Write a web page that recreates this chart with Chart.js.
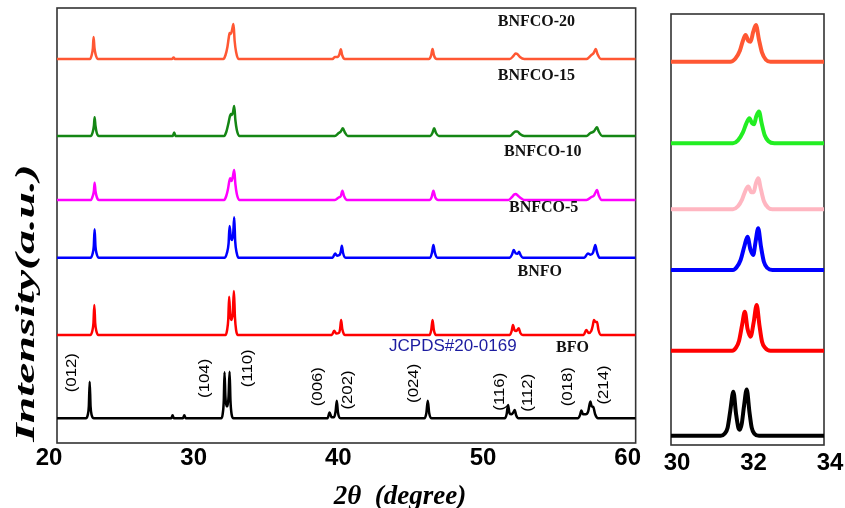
<!DOCTYPE html>
<html lang="en">
<head>
<meta charset="UTF-8" />
<title>XRD BNFCO</title>
<script src="https://cdn.jsdelivr.net/npm/chart.js"></script>
<style>
    body {
        margin: 0;
        background: #fff;
    }

    .wrap {
        position: relative;
        width: 845px;
        height: 508px;
    }

    .panel {
        position: absolute;
        top: 0;
        height: 508px;
    }

    #leftBox {
        left: 0;
        width: 650px;
    }

    #rightBox {
        left: 650px;
        width: 195px;
    }
</style>
</head>
<body>
<div class="wrap">
    <div class="panel" id="leftBox"><canvas id="xrdChart"></canvas></div>
    <div class="panel" id="rightBox"><canvas id="zoomChart"></canvas></div>
</div>

<script>
    // ===== Data (2theta in degree, intensity above each pattern's baseline) =====
    const sampleNames = ['BFO', 'BNFO', 'BNFCO-5', 'BNFCO-10', 'BNFCO-15', 'BNFCO-20'];
    const xTicksFull = [20, 30, 40, 50, 60];
    const xTicksZoom = [30, 32, 34];
    const offsetsFull = [24.7, 108, 185.3, 243, 307, 384];
    const offsetsZoom = [9.3, 94.3, 175, 235.7, 301.7, 383.3];

    const bfoFull = [[20, 0], [22.0, 0], [22.12, 3], [22.2, 12], [22.26, 36.6], [22.32, 12], [22.4, 3], [22.55, 0],
        [27.9, 0], [27.99, 3], [28.08, 0], [28.7, 0], [28.8, 3], [28.9, 0],
        [31.35, 0], [31.45, 4], [31.53, 18], [31.58, 46], [31.64, 22], [31.72, 12], [31.78, 12], [31.86, 22], [31.93, 46.6], [31.99, 18], [32.07, 4], [32.2, 0],
        [38.7, 0], [38.84, 5.7], [38.98, 1], [39.15, 1], [39.26, 7], [39.34, 17.6], [39.42, 6], [39.6, 0],
        [45.4, 0], [45.53, 5], [45.63, 17.6], [45.73, 5], [45.9, 0],
        [50.95, 0], [51.08, 4], [51.18, 13.3], [51.28, 5], [51.42, 4], [51.55, 6], [51.64, 8.3], [51.74, 3], [51.9, 0],
        [56.0, 0], [56.15, 3], [56.25, 7.7], [56.36, 4], [56.55, 4], [56.72, 7], [56.87, 16.7], [56.96, 12], [57.08, 11], [57.2, 4], [57.4, 0],
        [60, 0]];
    const bnfoFull = [[20, 0], [22.3, 0], [22.44, 4], [22.52, 12], [22.58, 30], [22.64, 12], [22.72, 4], [22.86, 0],
        [31.65, 0], [31.76, 5], [31.84, 16], [31.9, 38.3], [31.97, 20], [32.06, 15], [32.15, 22], [32.23, 44], [32.3, 18], [32.38, 5], [32.5, 0],
        [39.0, 0], [39.16, 4.3], [39.3, 1.5], [39.48, 2], [39.57, 6], [39.64, 15], [39.72, 6], [39.9, 0],
        [45.75, 0], [45.87, 5], [45.96, 15], [46.05, 5], [46.2, 0],
        [51.3, 0], [51.43, 4], [51.52, 10], [51.62, 5], [51.75, 4], [51.92, 6.7], [52.03, 2], [52.2, 0],
        [56.4, 0], [56.59, 5], [56.75, 2], [56.93, 4], [57.03, 9], [57.12, 15], [57.23, 13], [57.33, 13], [57.43, 5], [57.6, 0],
        [60, 0]];
    const bnfco5Full = [[20, 0], [22.32, 0], [22.46, 4], [22.54, 11], [22.6, 28.4], [22.66, 11], [22.74, 4], [22.9, 0],
        [31.6, 0], [31.75, 5], [31.86, 14], [31.93, 31.7], [32.01, 21], [32.1, 17.7], [32.18, 24], [32.25, 40.4], [32.32, 16], [32.42, 5], [32.55, 0],
        [39.05, 0], [39.23, 4.3], [39.36, 2], [39.55, 3], [39.63, 7], [39.69, 12], [39.77, 5], [39.95, 0],
        [45.8, 0], [45.92, 5], [46.02, 12.7], [46.12, 5], [46.3, 0],
        [51.3, 0], [51.45, 3], [51.57, 7.7], [51.7, 4.5], [51.84, 4], [51.94, 6], [52.05, 2.5], [52.2, 0],
        [56.45, 0], [56.7, 4.3], [56.88, 3], [57.05, 5], [57.13, 9], [57.21, 12.7], [57.32, 6], [57.5, 0],
        [60, 0]];
    const bnfco10Full = [[20, 0], [22.35, 0], [22.47, 4], [22.55, 9], [22.6, 17.3], [22.66, 9], [22.75, 3], [22.9, 0],
        [31.55, 0], [31.7, 4], [31.82, 11], [31.9, 18], [31.97, 21.7], [32.07, 19], [32.15, 23], [32.25, 30], [32.33, 16], [32.43, 6], [32.6, 0],
        [39.2, 0], [39.47, 2.5], [39.62, 4], [39.73, 9.3], [39.84, 4], [40.05, 0],
        [45.75, 0], [45.9, 3], [46.02, 9.3], [46.14, 3], [46.35, 0],
        [51.2, 0], [51.45, 3], [51.6, 5.5], [51.71, 6], [51.85, 4.5], [52.05, 2], [52.3, 0],
        [56.6, 0], [56.94, 3], [57.12, 4.5], [57.24, 8], [57.33, 10], [57.44, 5], [57.65, 0],
        [60, 0]];
    const bnfco15Full = [[20, 0], [22.35, 0], [22.47, 4], [22.55, 10], [22.6, 18.7], [22.66, 10], [22.75, 3], [22.9, 0],
        [28.0, 0], [28.1, 3.5], [28.2, 0],
        [31.55, 0], [31.7, 4], [31.84, 12], [31.94, 19], [32.02, 22], [32.1, 21], [32.17, 24], [32.25, 30], [32.33, 16], [32.43, 6], [32.6, 0],
        [39.2, 0], [39.47, 3], [39.62, 4.5], [39.76, 7.7], [39.9, 3.5], [40.1, 0],
        [45.8, 0], [45.95, 3], [46.07, 7.7], [46.2, 3], [46.4, 0],
        [51.3, 0], [51.55, 3], [51.7, 4.5], [51.82, 4.5], [52.0, 2], [52.3, 0],
        [56.6, 0], [56.87, 3], [57.1, 4.5], [57.25, 7.5], [57.33, 8.7], [57.45, 4.5], [57.7, 0],
        [60, 0]];
    const bnfco20Full = [[20, 0], [22.28, 0], [22.4, 4], [22.48, 11], [22.53, 22], [22.59, 11], [22.68, 4], [22.82, 0],
        [27.95, 0], [28.06, 1.5], [28.15, 0],
        [31.5, 0], [31.65, 4], [31.78, 12], [31.87, 21], [31.93, 26], [32.02, 25], [32.1, 29], [32.2, 35], [32.28, 18], [32.38, 7], [32.55, 0],
        [39.05, 0], [39.2, 2], [39.4, 2], [39.53, 5], [39.62, 9.7], [39.71, 4], [39.9, 0],
        [45.7, 0], [45.86, 3.5], [45.96, 10], [46.06, 3.5], [46.25, 0],
        [51.3, 0], [51.55, 3], [51.7, 5.5], [51.82, 5], [52.0, 2], [52.3, 0],
        [56.6, 0], [56.94, 4], [57.1, 6], [57.24, 10], [57.36, 5], [57.6, 0],
        [60, 0]];

    // zoom 30-34 degree
    const bfoZoom = [[30, 0], [31.3, 0], [31.4, 2], [31.48, 8], [31.55, 25], [31.63, 44], [31.7, 22], [31.76, 8], [31.8, 6], [31.85, 12], [31.91, 30], [31.98, 46.3], [32.05, 24], [32.11, 8], [32.18, 2], [32.3, 0], [34, 0]];
    const bnfoZoom = [[30, 0], [31.6, 0], [31.7, 3], [31.78, 10], [31.86, 26], [31.93, 39], [32.0, 22], [32.08, 14], [32.16, 28], [32.24, 45.7], [32.31, 26], [32.38, 9], [32.46, 3], [32.6, 0], [34, 0]];
    const bnfco5Zoom = [[30, 0], [31.62, 0], [31.72, 3], [31.82, 10], [31.92, 24], [32.0, 33.3], [32.08, 20], [32.15, 15], [32.21, 28], [32.28, 41.7], [32.35, 24], [32.43, 8], [32.52, 2], [32.65, 0], [34, 0]];
    const bnfco10Zoom = [[30, 0], [31.62, 0], [31.75, 3], [31.86, 10], [31.95, 19], [32.02, 22.7], [32.1, 17], [32.16, 17], [32.22, 26], [32.28, 31], [32.35, 20], [32.43, 8], [32.53, 2], [32.65, 0], [34, 0]];
    const bnfco15Zoom = [[30, 0], [31.62, 0], [31.75, 3], [31.88, 11], [31.97, 20], [32.05, 25], [32.12, 20], [32.17, 19], [32.23, 27], [32.3, 31.7], [32.37, 20], [32.45, 8], [32.55, 2], [32.7, 0], [34, 0]];
    const bnfco20Zoom = [[30, 0], [31.55, 0], [31.68, 3], [31.8, 11], [31.88, 21], [31.95, 26.7], [32.02, 21], [32.08, 20], [32.15, 30], [32.22, 36.7], [32.3, 22], [32.38, 9], [32.48, 2], [32.6, 0], [34, 0]];

    const hklLabels = ['(012)', '(104)', '(110)', '(006)', '(202)', '(024)', '(116)', '(112)', '(018)', '(214)'];

    // ===== Styles and label positions =====
    const coloursFull = ['#000000', '#ff0000', '#0000ff', '#ff00ff', '#148614', '#ff5733'];
    const coloursZoom = ['#000000', '#ff0000', '#0000ff', '#ffb6c1', '#22ee22', '#ff5733'];
    const namePos = [[55.63, 94.7], [53.37, 171], [53.64, 235], [53.58, 291], [53.14, 367], [53.14, 421.3]];
    const hklPos = [[21.02, 70.3], [30.22, 64.7], [33.22, 74.7], [38.05, 56.3], [40.12, 53],
        [44.66, 59.7], [50.6, 51.3], [52.56, 50.3], [55.32, 56.3], [57.79, 58]];

    const toPts = (arr, off) => arr.map(([x, y]) => ({ x: x, y: y + off }));

    const fullSets = [bfoFull, bnfoFull, bnfco5Full, bnfco10Full, bnfco15Full, bnfco20Full];
    const zoomSets = [bfoZoom, bnfoZoom, bnfco5Zoom, bnfco10Zoom, bnfco15Zoom, bnfco20Zoom];

    const framePlugin = {
        id: 'frame',
        beforeDatasetsDraw(chart) {
            const { ctx, chartArea: a } = chart;
            ctx.save();
            ctx.strokeStyle = '#333';
            ctx.lineWidth = 1.6;
            ctx.strokeRect(a.left, a.top, a.right - a.left, a.bottom - a.top);
            ctx.restore();
        }
    };

    const textPlugin = {
        id: 'xrdText',
        afterDraw(chart) {
            const { ctx, scales: { x, y } } = chart;
            ctx.save();
            ctx.textAlign = 'center';
            ctx.textBaseline = 'middle';

            // sample names
            ctx.fillStyle = '#111';
            ctx.font = 'bold 16px "Liberation Serif", serif';
            sampleNames.forEach((n, i) => {
                ctx.fillText(n, x.getPixelForValue(namePos[i][0]), y.getPixelForValue(namePos[i][1]));
            });

            // JCPDS card
            ctx.fillStyle = '#1c1ca0';
            ctx.font = '17px "Liberation Sans", sans-serif';
            ctx.fillText('JCPDS#20-0169', x.getPixelForValue(47.36), y.getPixelForValue(96.3));

            // miller indices
            ctx.fillStyle = '#000';
            ctx.font = '15px "Liberation Sans", sans-serif';
            hklLabels.forEach((t, i) => {
                ctx.save();
                ctx.translate(x.getPixelForValue(hklPos[i][0]), y.getPixelForValue(hklPos[i][1]));
                ctx.rotate(-Math.PI / 2);
                ctx.scale(1.12, 1);
                ctx.fillText(t, 0, 0);
                ctx.restore();
            });

            // axis titles
            ctx.font = 'italic bold 27px "Liberation Serif", serif';
            ctx.textBaseline = 'alphabetic';
            ctx.fillText('2θ  (degree)', 400, 504);

            ctx.save();
            ctx.translate(34, 303);
            ctx.rotate(-Math.PI / 2);
            ctx.scale(1.7, 1);
            ctx.font = 'italic bold 28px "Liberation Serif", serif';
            ctx.fillText('Intensity(a.u.)', 0, 0);
            ctx.restore();

            ctx.restore();
        }
    };

    function makeOptions(xMin, xMax, ticks, yMax, pad, axisH, labelShift, tickPad) {
        return {
            responsive: true,
            maintainAspectRatio: false,
            animation: false,
            layout: { padding: pad },
            plugins: { legend: { display: false }, tooltip: { enabled: false } },
            elements: { point: { radius: 0 }, line: { cubicInterpolationMode: 'monotone' } },
            scales: {
                x: {
                    type: 'linear',
                    min: xMin,
                    max: xMax,
                    afterBuildTicks: s => { s.ticks = ticks.map(v => ({ value: v })); },
                    afterFit: s => { s.height = axisH; },
                    grid: { display: false, drawTicks: false },
                    border: { display: false },
                    ticks: {
                        color: '#000',
                        padding: tickPad,
                        labelOffset: labelShift,
                        maxRotation: 0,
                        font: { family: '"Liberation Sans", Arial, sans-serif', size: 24, weight: 'bold' }
                    }
                },
                y: { display: false, min: 0, max: yMax }
            }
        };
    }

    new Chart(document.getElementById('xrdChart'), {
        type: 'line',
        data: {
            datasets: fullSets.map((d, i) => ({
                label: sampleNames[i],
                data: toPts(d, offsetsFull[i]),
                borderColor: coloursFull[i],
                borderWidth: 2.5,
                fill: false
            }))
        },
        options: makeOptions(20, 60, xTicksFull, 435, { left: 57, top: 8, right: 14, bottom: 0 }, 65, -8, 1),
        plugins: [framePlugin, textPlugin]
    });

    new Chart(document.getElementById('zoomChart'), {
        type: 'line',
        data: {
            datasets: zoomSets.map((d, i) => ({
                label: sampleNames[i],
                data: toPts(d, offsetsZoom[i]),
                borderColor: coloursZoom[i],
                borderWidth: 4,
                fill: false
            }))
        },
        options: makeOptions(30, 34, xTicksZoom, 431, { left: 21, top: 14, right: 21, bottom: 0 }, 63, 6, 4),
        plugins: [framePlugin]
    });
</script>
</body>
</html>
